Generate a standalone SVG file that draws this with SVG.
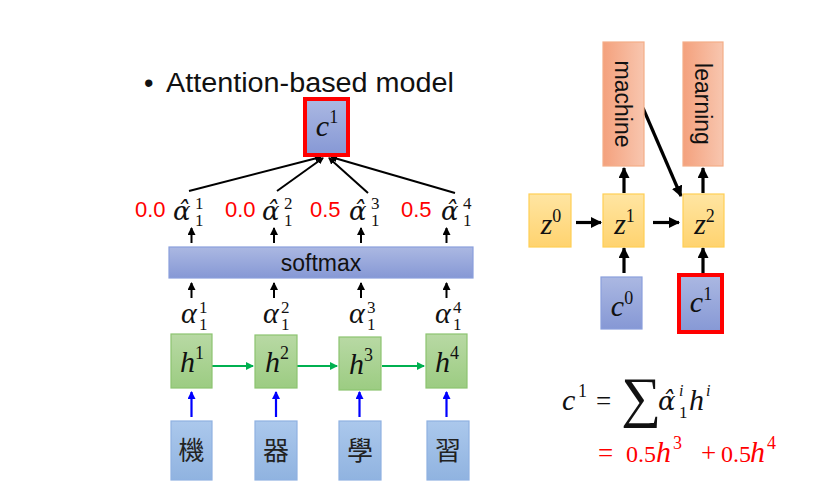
<svg xmlns="http://www.w3.org/2000/svg" width="816" height="490" viewBox="0 0 816 490">
<style>
.sans{font-family:"Liberation Sans","Noto Sans",sans-serif;}
.mi{font-family:"Liberation Serif","DejaVu Serif",serif;font-style:italic;fill:#111;}
.mh{font-family:"DejaVu Serif","Liberation Serif",serif;font-style:italic;fill:#111;}
.mn{font-family:"Liberation Serif","DejaVu Serif",serif;fill:#111;}
.cjk{font-family:"Noto Sans CJK TC","Noto Sans CJK SC",sans-serif;fill:#222;}
.red{fill:#ff0000;}
.blue{fill:url(#gBlue);stroke:#8a9fdc;stroke-width:1.2;}
.green{fill:url(#gGreen);stroke:#8cc470;stroke-width:1.2;}
.cj{fill:url(#gCjk);stroke:#8fb1e2;stroke-width:1.2;}
.yel{fill:url(#gYel);stroke:#ffcf55;stroke-width:1.2;}
.org{fill:url(#gOrg);stroke:#f4ad88;stroke-width:1.2;}
.redb{stroke:#ff0000;stroke-width:4;}
.ak{stroke:#000;stroke-width:2;fill:none;marker-end:url(#mK);}
.ak3{stroke:#000;stroke-width:3.2;fill:none;marker-end:url(#mK3);}
.ag{stroke:#00b050;stroke-width:2;fill:none;marker-end:url(#mG);}
.ab{stroke:#0000ff;stroke-width:2.2;fill:none;marker-end:url(#mB);}
.ln{stroke:#000;stroke-width:2;fill:none;marker-end:url(#mS);}
</style>
<defs>
<linearGradient id="gBlue" x1="0" y1="0" x2="0" y2="1"><stop offset="0" stop-color="#abb8e2"/><stop offset="1" stop-color="#8698d5"/></linearGradient>
<linearGradient id="gGreen" x1="0" y1="0" x2="0" y2="1"><stop offset="0" stop-color="#b8d9a4"/><stop offset="1" stop-color="#9ccc82"/></linearGradient>
<linearGradient id="gCjk" x1="0" y1="0" x2="0" y2="1"><stop offset="0" stop-color="#abc8ec"/><stop offset="1" stop-color="#90b3e0"/></linearGradient>
<linearGradient id="gYel" x1="0" y1="0" x2="0" y2="1"><stop offset="0" stop-color="#ffe5a2"/><stop offset="1" stop-color="#ffd36f"/></linearGradient>
<linearGradient id="gOrg" x1="0" y1="0" x2="1" y2="0"><stop offset="0" stop-color="#f4a17d"/><stop offset="1" stop-color="#f8c6af"/></linearGradient>
<marker id="mK" markerUnits="userSpaceOnUse" markerWidth="8" markerHeight="8" refX="7" refY="4" orient="auto"><path d="M0,0 L8,4 L0,8 z" fill="#000"/></marker>
<marker id="mS" markerUnits="userSpaceOnUse" markerWidth="7" markerHeight="7" refX="6" refY="3.5" orient="auto"><path d="M0,0 L7,3.5 L0,7 z" fill="#000"/></marker>
<marker id="mK3" markerUnits="userSpaceOnUse" markerWidth="11" markerHeight="11" refX="10" refY="5.5" orient="auto"><path d="M0,0 L11,5.5 L0,11 z" fill="#000"/></marker>
<marker id="mG" markerUnits="userSpaceOnUse" markerWidth="8" markerHeight="8" refX="7" refY="4" orient="auto"><path d="M0,0 L8,4 L0,8 z" fill="#00b050"/></marker>
<marker id="mB" markerUnits="userSpaceOnUse" markerWidth="8" markerHeight="8" refX="7" refY="4" orient="auto"><path d="M0,0 L8,4 L0,8 z" fill="#0000ff"/></marker>
</defs>
<rect width="816" height="490" fill="#fff"/>

<g id="title">
<text class="sans" x="144" y="92" font-size="27" fill="#111">•</text>
<text class="sans" x="166" y="92" font-size="27" fill="#111" textLength="288" lengthAdjust="spacingAndGlyphs">Attention-based model</text>
</g>

<g id="connectors">
<path class="ln" d="M189,191 L321,157"/>
<path class="ln" d="M277,191 L323,158"/>
<path class="ln" d="M368,193 L329,158"/>
<path class="ln" d="M455,193 L331,157"/>
<path class="ak" d="M191.5,243 L191.5,228"/>
<path class="ak" d="M274,243 L274,228"/>
<path class="ak" d="M361,243 L361,228"/>
<path class="ak" d="M446.5,243 L446.5,228"/>
<path class="ak" d="M191.5,298 L191.5,283"/>
<path class="ak" d="M274,298 L274,283"/>
<path class="ak" d="M361,298 L361,283"/>
<path class="ak" d="M446.5,298 L446.5,283"/>
<path class="ag" d="M212,366 L253,366"/>
<path class="ag" d="M297,366 L337,366"/>
<path class="ag" d="M382,366 L424,366"/>
<path class="ab" d="M191.5,417 L191.5,392"/>
<path class="ab" d="M276,417 L276,392"/>
<path class="ab" d="M359.5,417 L359.5,392"/>
<path class="ab" d="M446.5,417 L446.5,392"/>
<path class="ak3" d="M576,222.5 L601,222.5"/>
<path class="ak3" d="M653,222.5 L679,222.5"/>
<path class="ak3" d="M624,193 L624,168"/>
<path class="ak3" d="M703,193 L703,168"/>
<path class="ak3" d="M624,273 L624,248"/>
<path class="ak3" d="M703,273 L703,248"/>
<path class="ak3" d="M643,108 L681,196"/>
</g>

<g id="c1-top">
<rect class="blue redb" x="305" y="99" width="43" height="56"/>
<text class="mi" x="327" y="136" font-size="30" text-anchor="middle">c<tspan class="mn" font-style="normal" font-size="18" dy="-13">1</tspan></text>
</g>

<g id="alpha-hat">
<text class="sans red" x="135" y="217" font-size="22">0.0</text>
<text class="mh" x="173" y="220" font-size="26">α̂</text>
<text class="mn" x="195" y="209" font-size="17">1</text><text class="mn" x="195" y="226" font-size="17">1</text>

<text class="sans red" x="225" y="217" font-size="22">0.0</text>
<text class="mh" x="262" y="220" font-size="26">α̂</text>
<text class="mn" x="284" y="209" font-size="17">2</text><text class="mn" x="284" y="226" font-size="17">1</text>

<text class="sans red" x="310" y="217" font-size="22">0.5</text>
<text class="mh" x="349" y="220" font-size="26">α̂</text>
<text class="mn" x="371" y="209" font-size="17">3</text><text class="mn" x="371" y="226" font-size="17">1</text>

<text class="sans red" x="401" y="217" font-size="22">0.5</text>
<text class="mh" x="441" y="220" font-size="26">α̂</text>
<text class="mn" x="463" y="209" font-size="17">4</text><text class="mn" x="463" y="226" font-size="17">1</text>
</g>

<g id="softmax">
<rect class="blue" x="169" y="247" width="304" height="31"/>
<text class="sans" x="321" y="271" font-size="23" text-anchor="middle" fill="#111">softmax</text>
</g>

<g id="alpha">
<text class="mi" x="181" y="323" font-size="30">α</text><text class="mn" x="199" y="313" font-size="17">1</text><text class="mn" x="199" y="330" font-size="17">1</text>
<text class="mi" x="263" y="323" font-size="30">α</text><text class="mn" x="281" y="313" font-size="17">2</text><text class="mn" x="281" y="330" font-size="17">1</text>
<text class="mi" x="349" y="323" font-size="30">α</text><text class="mn" x="367" y="313" font-size="17">3</text><text class="mn" x="367" y="330" font-size="17">1</text>
<text class="mi" x="435" y="323" font-size="30">α</text><text class="mn" x="453" y="313" font-size="17">4</text><text class="mn" x="453" y="330" font-size="17">1</text>
</g>

<g id="h1"><rect class="green" x="171" y="334" width="41" height="54"/><text class="mi" x="192" y="372" font-size="30" text-anchor="middle">h<tspan class="mn" font-style="normal" font-size="18" dy="-13">1</tspan></text></g>
<g id="h2"><rect class="green" x="255" y="335" width="42" height="53"/><text class="mi" x="277" y="372" font-size="30" text-anchor="middle">h<tspan class="mn" font-style="normal" font-size="18" dy="-13">2</tspan></text></g>
<g id="h3"><rect class="green" x="339" y="337" width="42" height="53"/><text class="mi" x="361" y="374" font-size="30" text-anchor="middle">h<tspan class="mn" font-style="normal" font-size="18" dy="-13">3</tspan></text></g>
<g id="h4"><rect class="green" x="426" y="334" width="41" height="54"/><text class="mi" x="447" y="372" font-size="30" text-anchor="middle">h<tspan class="mn" font-style="normal" font-size="18" dy="-13">4</tspan></text></g>

<g id="w1"><rect class="cj" x="171" y="421" width="41" height="59"/><text class="cjk" x="191.5" y="460" font-size="26" text-anchor="middle">機</text></g>
<g id="w2"><rect class="cj" x="255" y="421" width="42" height="59"/><text class="cjk" x="276" y="460" font-size="26" text-anchor="middle">器</text></g>
<g id="w3"><rect class="cj" x="339" y="421" width="42" height="59"/><text class="cjk" x="360" y="460" font-size="26" text-anchor="middle">學</text></g>
<g id="w4"><rect class="cj" x="427" y="421" width="42" height="59"/><text class="cjk" x="448" y="460" font-size="26" text-anchor="middle">習</text></g>

<g id="machine"><rect class="org" x="603" y="42" width="41" height="124"/><text class="sans" transform="translate(615,104) rotate(90)" font-size="23" text-anchor="middle" fill="#111">machine</text></g>
<g id="learning"><rect class="org" x="683" y="42" width="40" height="124"/><text class="sans" transform="translate(695,104) rotate(90)" font-size="23" text-anchor="middle" fill="#111">learning</text></g>

<g id="z0"><rect class="yel" x="529" y="194" width="42" height="53"/><text class="mi" x="551" y="234" font-size="30" text-anchor="middle">z<tspan class="mn" font-style="normal" font-size="18" dy="-12">0</tspan></text></g>
<g id="z1"><rect class="yel" x="603" y="194" width="41" height="53"/><text class="mi" x="624.5" y="234" font-size="30" text-anchor="middle">z<tspan class="mn" font-style="normal" font-size="18" dy="-12">1</tspan></text></g>
<g id="z2"><rect class="yel" x="683" y="194" width="41" height="53"/><text class="mi" x="704.5" y="234" font-size="30" text-anchor="middle">z<tspan class="mn" font-style="normal" font-size="18" dy="-12">2</tspan></text></g>

<g id="c0"><rect class="blue" x="601" y="277" width="41" height="52"/><text class="mi" x="622" y="316" font-size="30" text-anchor="middle">c<tspan class="mn" font-style="normal" font-size="18" dy="-12">0</tspan></text></g>
<g id="c1-right"><rect class="blue redb" x="679" y="275" width="43" height="57"/><text class="mi" x="701" y="312" font-size="30" text-anchor="middle">c<tspan class="mn" font-style="normal" font-size="18" dy="-12">1</tspan></text></g>

<g id="formula">
<text class="mi" x="562" y="410" font-size="30">c</text><text class="mn" x="578" y="397" font-size="18">1</text>
<text class="mn" x="596" y="410" font-size="27">=</text>
<text class="mn" x="621" y="416" font-size="56">∑</text>
<text class="mh" x="658" y="410" font-size="26">α̂</text>
<text class="mi" x="679" y="396" font-size="16">i</text><text class="mn" x="679" y="418" font-size="17">1</text>
<text class="mi" x="689" y="410" font-size="30">h</text><text class="mi" x="706" y="396" font-size="16">i</text>
<text class="mn red" x="598" y="462" font-size="27">=</text>
<text class="mn red" x="626" y="462" font-size="24">0.5</text>
<text class="mi red" x="656" y="462" font-size="30">h</text>
<text class="mn red" x="673" y="449" font-size="18">3</text>
<text class="mn red" x="701" y="462" font-size="27">+</text>
<text class="mn red" x="721" y="462" font-size="24">0.5</text>
<text class="mi red" x="750" y="462" font-size="30">h</text>
<text class="mn red" x="767" y="449" font-size="18">4</text>
</g>
</svg>
